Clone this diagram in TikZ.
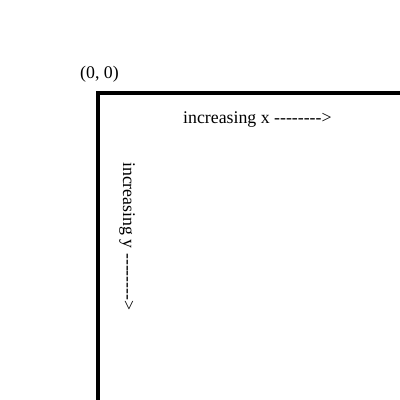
\documentclass[tikz,border=0pt]{standalone}
\usepackage{fontspec}
\setmainfont{Liberation Serif}
\begin{document}
\begin{tikzpicture}[x=1bp,y=-1bp,
  lbl/.style={inner sep=0pt,font=\fontsize{17.8bp}{21bp}\selectfont,anchor=base west},
  axisline/.style={line width=4bp,miter limit=10}]
\useasboundingbox[fill=white] (0,0) rectangle (400,400);
\coordinate (ybot) at (98,400);
\coordinate (origin) at (98,93);
\coordinate (xend) at (400,93);
\draw[axisline] (ybot) -- (origin) -- (xend);
\node[lbl] (orig) at (80,78) {(0, 0)};
\node[lbl] (incx) at (183,123) {increasing x -{}-{}-{}-{}-{}-{}-{}->};
\node[lbl,rotate=-90] (incy) at (123,162) {increasing y -{}-{}-{}-{}-{}-{}-{}->};
\end{tikzpicture}
\end{document}
